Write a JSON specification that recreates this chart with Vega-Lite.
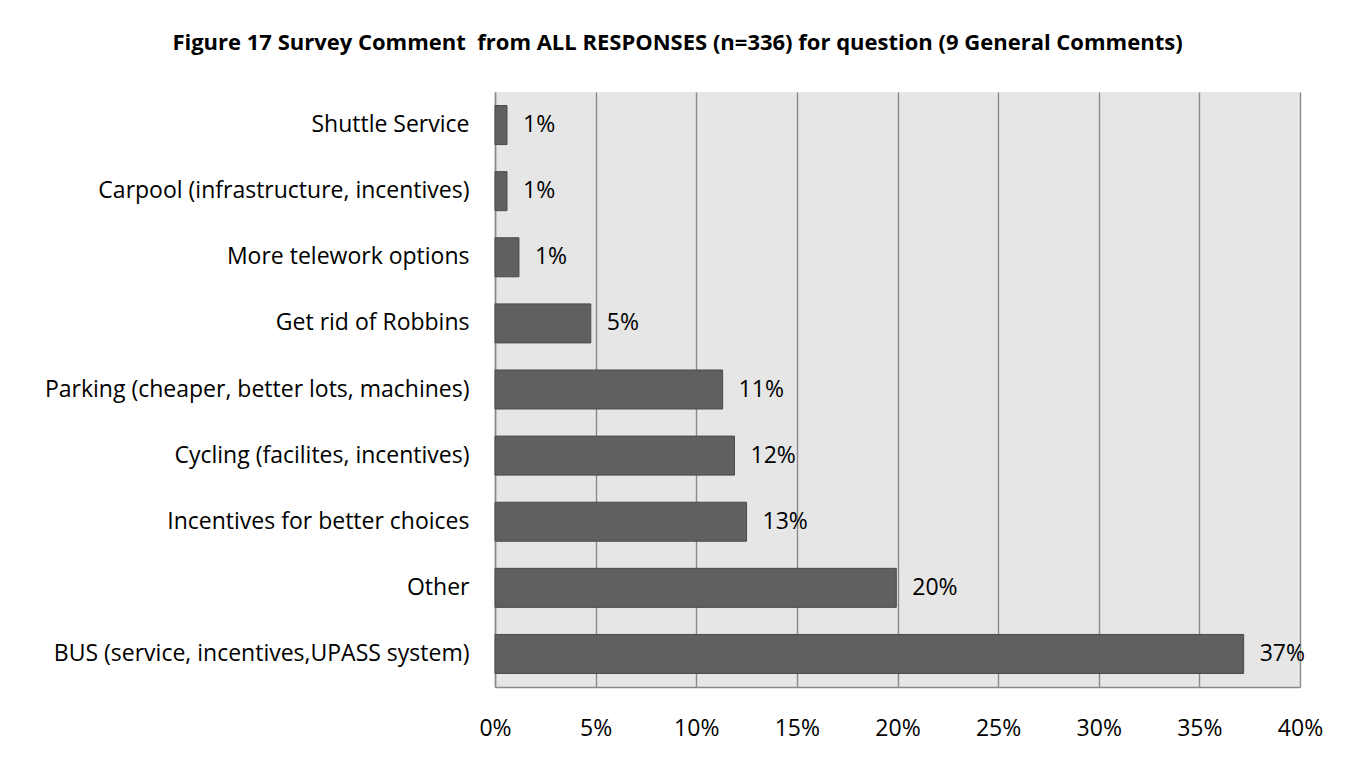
{
  "$schema": "https://vega.github.io/schema/vega-lite/v6.json",
  "autosize": {"type": "none"},
  "width": 805,
  "height": 595,
  "padding": {"left": 495, "top": 92, "right": 53, "bottom": 82},
  "background": "white",
  "title": {
    "text": "Figure 17 Survey Comment \u00a0from ALL RESPONSES (n=336) for question (9 General Comments)",
    "font": "Open Sans",
    "fontWeight": "bold",
    "fontSize": 22,
    "color": "black",
    "anchor": "middle",
    "frame": "group",
    "dx": -220,
    "offset": 37
  },
  "config": {
    "view": {"fill": "#e6e6e6", "stroke": null},
    "font": "Open Sans"
  },
  "data": {
    "values": [
      {"category": "Shuttle Service", "share": 0.00595},
      {"category": "Carpool (infrastructure, incentives)", "share": 0.00595},
      {"category": "More telework options", "share": 0.0119},
      {"category": "Get rid of Robbins", "share": 0.0476},
      {"category": "Parking (cheaper, better lots, machines)", "share": 0.1131},
      {"category": "Cycling (facilites, incentives)", "share": 0.119},
      {"category": "Incentives for better choices", "share": 0.125},
      {"category": "Other", "share": 0.1994},
      {"category": "BUS (service, incentives,UPASS system)", "share": 0.372}
    ]
  },
  "encoding": {
    "y": {
      "field": "category",
      "type": "nominal",
      "sort": null,
      "scale": {"paddingInner": 0.41, "paddingOuter": 0.205},
      "axis": {
        "title": null,
        "ticks": false,
        "labelPadding": 26,
        "labelFontSize": 23,
        "labelColor": "black",
        "labelFont": "Open Sans",
        "domainColor": "#8a8a8a",
        "domainWidth": 1.5,
        "grid": false,
        "labelLimit": 520
      }
    },
    "x": {
      "field": "share",
      "type": "quantitative",
      "scale": {"domain": [0, 0.4], "nice": false},
      "axis": {
        "title": null,
        "values": [0, 0.05, 0.1, 0.15, 0.2, 0.25, 0.3, 0.35, 0.4],
        "format": ".0%",
        "ticks": false,
        "labelFlush": false,
        "labelPadding": 30,
        "labelFontSize": 23,
        "labelColor": "black",
        "labelFont": "Open Sans",
        "domainColor": "#8a8a8a",
        "domainWidth": 1.5,
        "grid": true,
        "gridColor": "#8a8a8a",
        "gridWidth": 1.4,
        "gridOpacity": 1
      }
    }
  },
  "layer": [
    {
      "mark": {"type": "bar", "color": "#606060", "stroke": "#4a4a4a", "strokeWidth": 1}
    },
    {
      "mark": {"type": "text", "align": "left", "baseline": "middle", "dx": 16, "fontSize": 23, "color": "black", "font": "Open Sans"},
      "encoding": {
        "text": {"field": "share", "type": "quantitative", "format": ".0%"}
      }
    }
  ]
}
